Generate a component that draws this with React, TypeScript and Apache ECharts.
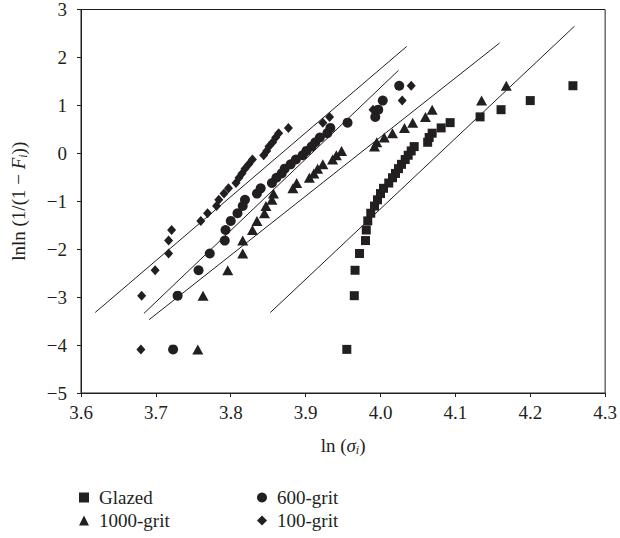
import React, { useEffect, useRef } from "react";
import * as echarts from "echarts";

// y positions (median-rank Weibull ordinate), shared by every data set
const probY = [-4.09, -2.97, -2.44, -2.09, -1.82, -1.6, -1.41, -1.25, -1.1, -0.97, -0.84, -0.73, -0.62, -0.51, -0.42, -0.32, -0.23, -0.13, -0.04, 0.05, 0.14, 0.23, 0.33, 0.42, 0.53, 0.64, 0.76, 0.91, 1.1, 1.41];

const glazedX = [3.955, 3.965, 3.966, 3.972, 3.98, 3.981, 3.983, 3.987, 3.992, 3.996, 4.0, 4.004, 4.011, 4.016, 4.02, 4.024, 4.028, 4.033, 4.037, 4.041, 4.045, 4.063, 4.065, 4.069, 4.081, 4.093, 4.133, 4.161, 4.2, 4.257];
const grit1000X = [3.756, 3.763, 3.796, 3.816, 3.816, 3.829, 3.835, 3.845, 3.847, 3.855, 3.857, 3.883, 3.888, 3.905, 3.911, 3.916, 3.923, 3.936, 3.941, 3.948, 3.992, 3.995, 4.005, 4.016, 4.032, 4.043, 4.06, 4.069, 4.135, 4.168];
const grit600X = [3.723, 3.729, 3.757, 3.772, 3.792, 3.793, 3.8, 3.809, 3.816, 3.819, 3.835, 3.84, 3.855, 3.861, 3.868, 3.872, 3.88, 3.887, 3.896, 3.901, 3.908, 3.913, 3.919, 3.929, 3.933, 3.956, 3.993, 3.997, 4.003, 4.025];
const grit100X = [3.68, 3.681, 3.699, 3.717, 3.717, 3.721, 3.76, 3.769, 3.781, 3.784, 3.791, 3.797, 3.807, 3.811, 3.815, 3.819, 3.824, 3.829, 3.844, 3.848, 3.851, 3.856, 3.86, 3.864, 3.877, 3.923, 3.932, 3.99, 4.029, 4.041];

// fitted straight lines: [x1, y1, x2, y2]
const fitLines = [
  [3.619, -3.32, 4.035, 2.23],
  [3.684, -3.34, 4.024, 1.73],
  [3.691, -3.47, 4.159, 2.3],
  [3.853, -3.32, 4.259, 2.65],
];

const seriesNames = ["Glazed", "1000-grit", "600-grit", "100-grit"];
const seriesSymbols = ["rect", "triangle", "circle", "diamond"];
const seriesSizes: number[][] = [[9, 9], [11, 10], [10, 10], [9, 10]];
const seriesXs = [glazedX, grit1000X, grit600X, grit100X];

const xTicks = [3.6, 3.7, 3.8, 3.9, 4.0, 4.1, 4.2, 4.3];

const INK = "#231f20";
const FONT = "Liberation Serif";

export default function App() {
  const ref = useRef<HTMLDivElement>(null);
  useEffect(() => {
    if (!ref.current) return;
    const chart = echarts.init(ref.current, undefined, { renderer: "svg" });
    const scatter = seriesNames.map((name, k) => ({
      name,
      type: "scatter",
      symbol: seriesSymbols[k],
      symbolSize: seriesSizes[k],
      itemStyle: { color: INK, opacity: 1 },
      data: seriesXs[k].map((x, i) => [x, probY[i]]),
      silent: true,
      z: 3,
    }));
    const lines = fitLines.map((l) => ({
      type: "line",
      data: [
        [l[0], l[1]],
        [l[2], l[3]],
      ],
      symbol: "none",
      lineStyle: { color: INK, width: 1 },
      silent: true,
      z: 2,
    }));
    const legendPos = [
      { name: "Glazed", left: 79, top: 488 },
      { name: "1000-grit", left: 79, top: 511 },
      { name: "600-grit", left: 257, top: 488 },
      { name: "100-grit", left: 257, top: 511 },
    ];
    const richSub = {
      it: { fontStyle: "italic", fontFamily: FONT, fontSize: 19, color: INK },
      sub: { fontStyle: "italic", fontFamily: FONT, fontSize: 12, color: INK, padding: [9, 0, 0, 0] },
    };
    chart.setOption({
      animation: false,
      backgroundColor: "#fff",
      grid: {
        left: 81,
        right: 14,
        top: 9,
        bottom: 145,
        show: true,
        borderColor: INK,
        borderWidth: 1,
        containLabel: false,
      },
      legend: legendPos.map((p) => ({
        data: [{ name: p.name, itemStyle: { color: INK, opacity: 1 } }],
        left: p.left,
        top: p.top,
        selectedMode: false,
        itemWidth: 10,
        itemHeight: 10,
        padding: 0,
        textStyle: { fontFamily: FONT, fontSize: 19, color: INK, padding: [0, 0, 0, 5] },
      })),
      xAxis: {
        type: "value",
        min: xTicks[0],
        max: xTicks[xTicks.length - 1],
        interval: 0.1,
        name: "ln ({it|σ}{sub|i})",
        nameLocation: "middle",
        nameGap: 42,
        nameTextStyle: { fontFamily: FONT, fontSize: 19, color: INK, rich: richSub },
        axisLine: { onZero: false, lineStyle: { color: INK, width: 1 } },
        axisTick: { inside: false, length: 4, lineStyle: { color: INK } },
        axisLabel: {
          fontFamily: FONT,
          fontSize: 19,
          color: INK,
          margin: 10,
          formatter: (v: number) => v.toFixed(1),
        },
        splitLine: { show: false },
      },
      yAxis: {
        type: "value",
        min: -5,
        max: 3,
        interval: 1,
        name: "lnln (1/(1 − {it|F}{sub|i}))",
        nameLocation: "middle",
        nameGap: 52,
        nameTextStyle: { fontFamily: FONT, fontSize: 19, color: INK, rich: richSub },
        axisLine: { onZero: false, lineStyle: { color: INK, width: 1 } },
        axisTick: { inside: false, length: 4, lineStyle: { color: INK } },
        axisLabel: {
          fontFamily: FONT,
          fontSize: 19,
          color: INK,
          margin: 14,
          formatter: (v: number) => String(v).replace("-", "−"),
        },
        splitLine: { show: false },
      },
      series: [...lines, ...scatter],
    });
    return () => chart.dispose();
  }, []);
  return (
    <div
      ref={ref}
      style={{ position: "fixed", left: 0, top: 0, width: 620, height: 538, background: "#fff" }}
    />
  );
}
